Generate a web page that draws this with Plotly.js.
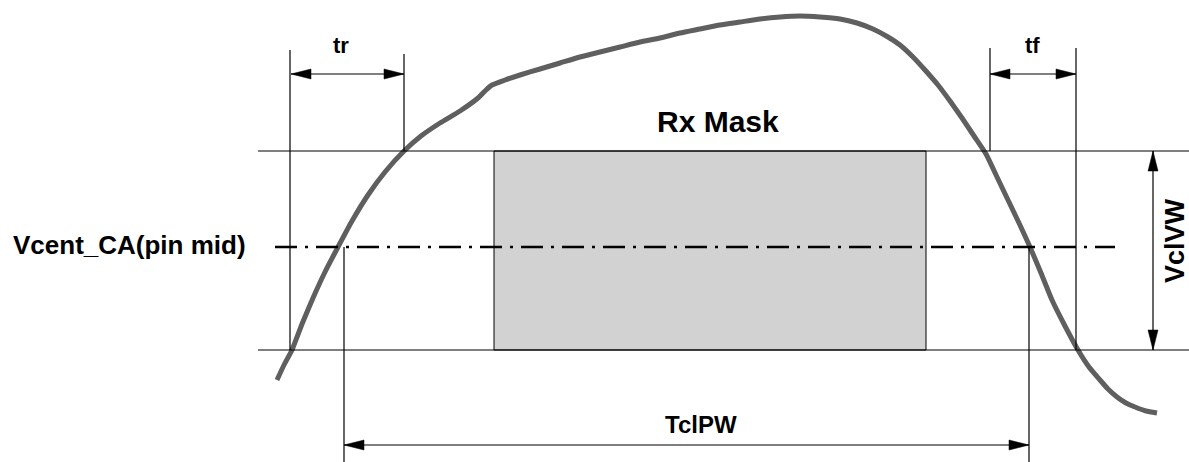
<!DOCTYPE html>
<html><head><meta charset="utf-8">
<script src="https://cdn.plot.ly/plotly-3.0.1.min.js"></script>
<style>html,body{margin:0;padding:0;background:#fff}#chart{width:1189px;height:462px}</style>
</head><body><div id="chart"></div>
<script>
// Signal curve (diagram units = pixels, y downward)
const curveX = [277,284,292,302,313,325,338,352,368,385,404,421,440,460,478,486,492,505,520,540,560,580,600,620,640,660,680,700,720,740,760,780,800,820,840,857,873,888,900,913,925,938,950,962,974,986,997,1008,1019,1030,1041,1052,1065,1078,1089,1100,1108,1117,1126,1135,1146,1157];
const curveY = [380,365,350,324,298,272,247,221,195,172,151,136,123,111,98,90,85,80,75,69,63,57,52,47,42,38,33,29,25,22,19,17,16,17,19,23,29,37,45,57,70,85,101,118,136,154,177,200,223,247,273,300,326,350,367,380,389,397,403,407,411,413];

// Reference levels
const levelNames = ["VIH", "Vcent", "VIL"];
const levelY = [151, 247, 350];
const hLineX = [[258,1189],[275,1115],[258,1189]];

// Rx mask box
const maskX = [494, 926];
const maskY = [151, 350];

// Vertical marker lines [x, y0, y1]
const vLineX  = [290, 404, 990, 1076, 344, 1029];
const vLineY0 = [50, 54, 48, 48, 247, 247];
const vLineY1 = [350, 151, 151, 350, 462, 462];

// Dimension arrows
const arrowNames = ["tr", "tf", "TclPW", "VclVW"];
const arrowX0 = [291, 990, 344, 1153];
const arrowX1 = [404, 1076, 1029, 1153];
const arrowY0 = [74, 74, 445, 151];
const arrowY1 = [74, 74, 445, 350];

// Labels
const labelText = ["tr", "tf", "Rx Mask", "TclPW", "Vcent_CA(pin mid)", "VclVW"];
const labelX = [341, 1032, 718, 701, 12, 1175];
const labelY = [45, 45, 121, 424, 245, 241];

const shapes = [];
shapes.push({type:'rect', xref:'x', yref:'y', x0:maskX[0], x1:maskX[1], y0:maskY[0], y1:maskY[1],
  fillcolor:'#d2d2d2', line:{color:'#000', width:1}, layer:'below'});
levelY.forEach((y,i)=>{
  shapes.push({type:'line', xref:'x', yref:'y', x0:hLineX[i][0], x1:hLineX[i][1], y0:y, y1:y,
    line: i===1 ? {color:'#000', width:2.6, dash:'22px,8px,3px,8px'} : {color:'#000', width:1.2}});
});
vLineX.forEach((x,i)=>{
  shapes.push({type:'line', xref:'x', yref:'y', x0:x, x1:x, y0:vLineY0[i], y1:vLineY1[i], line:{color:'#000', width:1.2}});
});
function head(tx, ty, dx, dy){
  const L = 20, W = 5;
  const bx = tx - dx*L, by = ty - dy*L;
  const px = -dy*W, py = dx*W;
  return {type:'path', xref:'x', yref:'y',
    path:`M${tx},${ty} L${bx+px},${by+py} L${bx-px},${by-py} Z`,
    fillcolor:'#000', line:{color:'#000', width:0.5}};
}
arrowNames.forEach((n,i)=>{
  const x0=arrowX0[i], x1=arrowX1[i], y0=arrowY0[i], y1=arrowY1[i];
  shapes.push({type:'line', xref:'x', yref:'y', x0:x0, x1:x1, y0:y0, y1:y1, line:{color:'#000', width:1.2}});
  const len = Math.hypot(x1-x0, y1-y0), dx=(x1-x0)/len, dy=(y1-y0)/len;
  shapes.push(head(x1, y1, dx, dy));
  shapes.push(head(x0, y0, -dx, -dy));
});

const fontBase = {family:'"Liberation Sans", Arial, sans-serif', color:'#000', weight:'bold'};
const sizes = [22, 22, 30, 24, 26, 27];
const annotations = labelText.map((t,i)=>({
  x: labelX[i], y: labelY[i], xref:'x', yref:'y', text:t, showarrow:false,
  xanchor: i===4 ? 'left' : 'center', yanchor:'middle',
  textangle: i===5 ? -90 : 0, borderpad:0,
  font: Object.assign({}, fontBase, {size: sizes[i]})
}));

const data = [{
  x: curveX, y: curveY, type:'scatter', mode:'lines',
  line:{color:'#5f5f5f', width:5, shape:'spline', smoothing:0.5},
  hoverinfo:'skip'
}];

const layout = {
  width:1189, height:462, margin:{l:0,r:0,t:0,b:0},
  paper_bgcolor:'#fff', plot_bgcolor:'#fff', showlegend:false,
  xaxis:{range:[0,1189], visible:false, fixedrange:true},
  yaxis:{range:[462,0], visible:false, fixedrange:true},
  shapes: shapes, annotations: annotations
};
Plotly.newPlot('chart', data, layout, {displayModeBar:false, staticPlot:true});
</script></body></html>
